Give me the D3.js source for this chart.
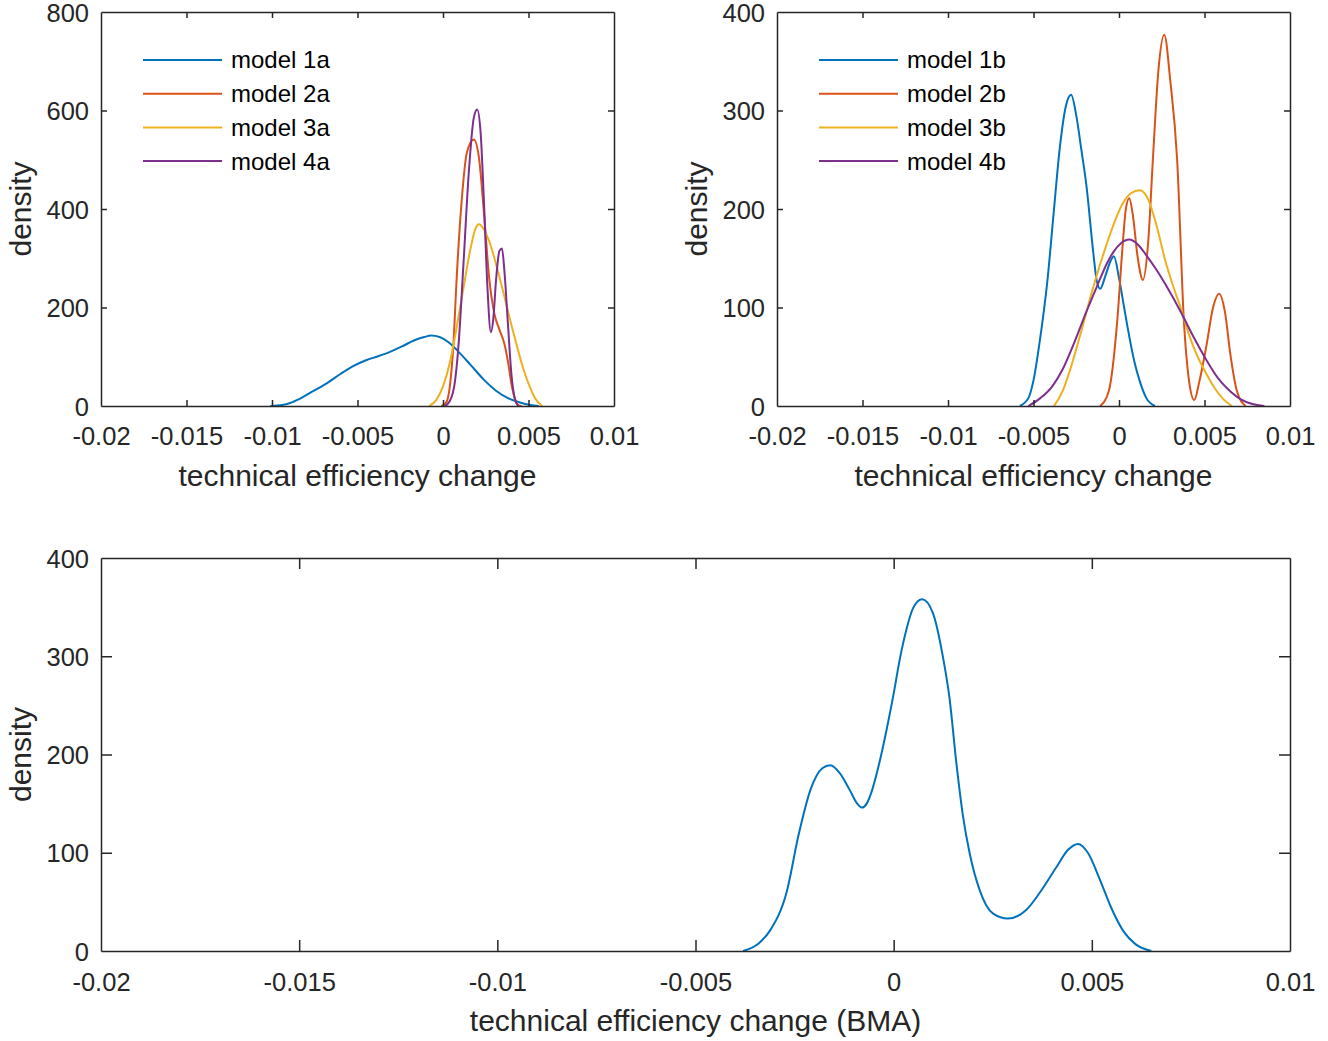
<!DOCTYPE html>
<html><head><meta charset="utf-8">
<script src="https://cdn.jsdelivr.net/npm/d3@7"></script>
<style>
html,body{margin:0;padding:0;background:#fff;}
svg{display:block;font-family:"Liberation Sans",Arial,Helvetica,sans-serif;}
</style></head>
<body>
<svg id="chart" width="1328" height="1041"></svg>
<script>
// ---------------- data ----------------
const xTicks = [-0.02, -0.015, -0.01, -0.005, 0, 0.005, 0.01];
const xTickLabels = ["-0.02", "-0.015", "-0.01", "-0.005", "0", "0.005", "0.01"];
const yTicksA = [0, 200, 400, 600, 800];
const yTicksB = [0, 100, 200, 300, 400];
const namesA = ["model 1a", "model 2a", "model 3a", "model 4a"];
const namesB = ["model 1b", "model 2b", "model 3b", "model 4b"];
const colors = ["#0072BD", "#D95319", "#EDB120", "#7E2F8E"];

const model1a = [[-0.0101,0],[-0.0094,2],[-0.0088,8],[-0.0082,18],[-0.0076,30],[-0.0068,46],[-0.0060,65],[-0.0052,82],[-0.0045,93],[-0.0038,101],[-0.0031,110],[-0.0024,121],[-0.0017,133],[-0.0011,140],[-0.0007,143],[-0.0002,140],[0.0003,130],[0.0008,114],[0.0016,84],[0.0024,53],[0.0031,31],[0.0038,16],[0.0045,7],[0.0051,2],[0.0056,0]];
const model2a = [[-0.0001,0],[0.0002,8],[0.0004,40],[0.0006,120],[0.0008,260],[0.0011,420],[0.0014,515],[0.0018,541],[0.0021,505],[0.0024,390],[0.0027,260],[0.0030,188],[0.0033,155],[0.0036,125],[0.0038,90],[0.0040,45],[0.0042,15],[0.0044,2],[0.0046,0]];
const model3a = [[-0.0008,0],[-0.0004,12],[0.0000,40],[0.0004,88],[0.0008,160],[0.0012,240],[0.0016,318],[0.0019,360],[0.0021,369],[0.0024,358],[0.0027,335],[0.0031,288],[0.0035,235],[0.0039,178],[0.0043,125],[0.0047,75],[0.0051,37],[0.0054,15],[0.0058,0]];
const model4a = [[0.0001,0],[0.0004,10],[0.0007,50],[0.0009,120],[0.0012,290],[0.0015,470],[0.0018,585],[0.0020,602],[0.0022,555],[0.0024,410],[0.0026,240],[0.0028,150],[0.00295,180],[0.0031,255],[0.0033,315],[0.00345,320],[0.0036,270],[0.0038,165],[0.0040,65],[0.0042,15],[0.0044,0]];

const model1b = [[-0.0058,0],[-0.0053,8],[-0.0050,26],[-0.0046,70],[-0.0042,125],[-0.0038,200],[-0.0035,256],[-0.0031,305],[-0.0028,316],[-0.0025,295],[-0.0022,260],[-0.0019,223],[-0.0015,155],[-0.0013,127],[-0.0011,119],[-0.0008,132],[-0.0005,147],[-0.0003,152],[0.0000,130],[0.0003,100],[0.0005,80],[0.0009,45],[0.0012,26],[0.0016,8],[0.0021,0]];
const model2b = [[-0.0011,0],[-0.0006,15],[-0.0001,87],[0.0002,160],[0.0004,200],[0.0006,211],[0.0008,195],[0.0011,150],[0.0014,128],[0.0017,165],[0.0020,256],[0.0023,340],[0.00265,377],[0.0030,330],[0.0034,250],[0.0038,85],[0.0041,25],[0.0044,6],[0.0047,25],[0.0051,60],[0.0055,100],[0.00585,114],[0.0062,95],[0.0065,54],[0.0069,15],[0.0074,0]];
const model3b = [[-0.0038,0],[-0.0033,15],[-0.0028,40],[-0.0023,70],[-0.0016,115],[-0.0009,155],[-0.0003,185],[0.0002,205],[0.0007,216],[0.0012,219],[0.0017,210],[0.0022,183],[0.0027,148],[0.0032,120],[0.0036,100],[0.0041,72],[0.0046,50],[0.0051,33],[0.0056,18],[0.0061,7],[0.0066,0]];
const model4b = [[-0.0053,0],[-0.0046,8],[-0.0039,20],[-0.0033,37],[-0.0026,65],[-0.0019,96],[-0.0013,121],[-0.0007,145],[-0.0003,157],[0.0001,165],[0.0006,169],[0.0011,164],[0.0016,153],[0.0022,138],[0.0029,118],[0.0036,96],[0.0043,72],[0.0051,47],[0.0058,28],[0.0065,15],[0.0071,7],[0.0078,2],[0.0085,0]];

const modelBMA = [[-0.0038,0],[-0.0034,8],[-0.0031,22],[-0.0027,60],[-0.0024,118],[-0.0021,164],[-0.0018,186],[-0.0016,189],[-0.00136,181],[-0.00111,164],[-0.00092,150],[-0.0008,146],[-0.00068,150],[-0.00055,163],[-0.00037,190],[-0.00018,225],[0.0000,262],[0.00015,296],[0.00032,327],[0.00049,349],[0.00072,358],[0.00099,344],[0.00124,300],[0.00141,257],[0.00158,192],[0.00175,137],[0.00192,99],[0.00217,62],[0.00251,38],[0.00288,33],[0.00335,42],[0.00368,59],[0.0041,85],[0.0044,103],[0.00465,109],[0.0049,100],[0.0052,73],[0.0055,43],[0.0058,20],[0.0061,7],[0.0065,0]];

const seriesA = [model1a, model2a, model3a, model4a];
const seriesB = [model1b, model2b, model3b, model4b];

// ---------------- drawing ----------------
const svg = d3.select("#chart");
const TXT = "#262626";
const FONT_TICK = 25.5, FONT_LABEL = 30, FONT_LEG = 24;

function panel(cfg) {
  const x = d3.scaleLinear().domain([-0.02, 0.01]).range([cfg.left, cfg.right]);
  const y = d3.scaleLinear().domain([0, cfg.ymax]).range([cfg.bottom, cfg.top]);
  const g = svg.append("g");
  const tl = cfg.tick;

  // curves
  const line = d3.line().x(d => x(d[0])).y(d => y(d[1])).curve(d3.curveMonotoneX);
  cfg.series.forEach((s, i) => {
    g.append("path").datum(s).attr("d", line)
      .attr("fill", "none").attr("stroke", colors[i]).attr("stroke-width", 2)
      .attr("stroke-linejoin", "round");
  });

  // axes
  const fmt = v => xTickLabels[xTicks.indexOf(v)];
  const axB = g.append("g").attr("transform", `translate(0,${cfg.bottom})`)
    .call(d3.axisBottom(x).tickValues(xTicks).tickFormat(fmt).tickSizeInner(-tl).tickSizeOuter(0).tickPadding(10));
  const axT = g.append("g").attr("transform", `translate(0,${cfg.top})`)
    .call(d3.axisTop(x).tickValues(xTicks).tickFormat("").tickSizeInner(-tl).tickSizeOuter(0));
  const axL = g.append("g").attr("transform", `translate(${cfg.left},0)`)
    .call(d3.axisLeft(y).tickValues(cfg.yTicks).tickFormat(d3.format("d")).tickSizeInner(-tl).tickSizeOuter(0).tickPadding(12));
  const axR = g.append("g").attr("transform", `translate(${cfg.right},0)`)
    .call(d3.axisRight(y).tickValues(cfg.yTicks).tickFormat("").tickSizeInner(-tl).tickSizeOuter(0));
  [axB, axT, axL, axR].forEach(a => {
    a.select(".domain").attr("stroke", TXT).attr("stroke-width", 1.5);
    a.selectAll(".tick line").attr("stroke", TXT).attr("stroke-width", 1.5);
    a.selectAll(".tick text").attr("fill", TXT).attr("font-size", FONT_TICK)
      .attr("font-family", "Liberation Sans, Arial, sans-serif");
  });
  axB.selectAll(".tick text").attr("dy", "0").attr("y", cfg.xlabOff);
  axL.selectAll(".tick text").attr("dy", "0.36em");
  axB.selectAll(".tick line").filter(d => d === -0.02 || d === 0.01).remove();
  axT.selectAll(".tick line").filter(d => d === -0.02 || d === 0.01).remove();
  axL.selectAll(".tick line").filter(d => d === 0 || d === cfg.ymax).remove();
  axR.selectAll(".tick line").filter(d => d === 0 || d === cfg.ymax).remove();

  // axis labels
  g.append("text").attr("x", (cfg.left + cfg.right) / 2).attr("y", cfg.bottom + 80)
    .attr("text-anchor", "middle").attr("font-size", FONT_LABEL).attr("fill", TXT).text(cfg.xlabel);
  g.append("text").attr("transform", `translate(${cfg.left - 70},${(cfg.top + cfg.bottom) / 2}) rotate(-90)`)
    .attr("text-anchor", "middle").attr("font-size", FONT_LABEL).attr("fill", TXT).text("density");

  // legend
  if (cfg.names) {
    cfg.names.forEach((n, i) => {
      const ly = cfg.top + 48 + i * 33.7;
      g.append("line").attr("x1", cfg.left + 42).attr("x2", cfg.left + 121)
        .attr("y1", ly).attr("y2", ly).attr("stroke", colors[i]).attr("stroke-width", 2);
      g.append("text").attr("x", cfg.left + 130).attr("y", ly).attr("dy", "0.35em")
        .attr("font-size", FONT_LEG).attr("fill", "#000").text(n);
    });
  }
}

panel({left: 101, right: 614, top: 12, bottom: 406, ymax: 800, yTicks: yTicksA, tick: 6, xlabOff: 39,
  series: seriesA, names: namesA, xlabel: "technical efficiency change"});
panel({left: 777, right: 1290, top: 12, bottom: 406, ymax: 400, yTicks: yTicksB, tick: 6, xlabOff: 39,
  series: seriesB, names: namesB, xlabel: "technical efficiency change"});
panel({left: 101, right: 1290, top: 558, bottom: 951, ymax: 400, yTicks: yTicksB, tick: 11, xlabOff: 40,
  series: [modelBMA], names: null, xlabel: "technical efficiency change (BMA)"});
</script>
</body></html>
